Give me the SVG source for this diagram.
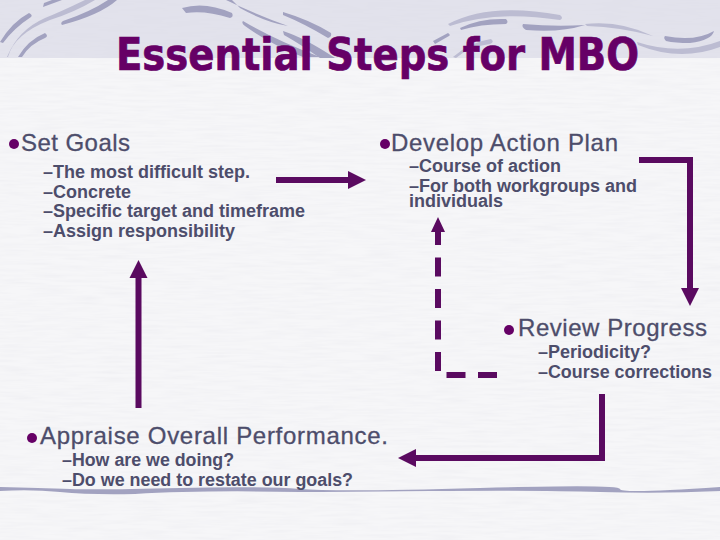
<svg xmlns="http://www.w3.org/2000/svg" width="720" height="540" viewBox="0 0 720 540">
<style>
.title{font:bold 44px "DejaVu Sans",sans-serif;fill:#660066;stroke:#660066;stroke-width:.7}
.h{font:24px "Liberation Sans",Arial,sans-serif;fill:#4d4d6b;stroke:#4d4d6b;stroke-width:.3}
.s{font:bold 18px "Liberation Sans",Arial,sans-serif;fill:#4d4d6b}
.b{fill:#660066}
.d{fill:#a2a2c0}
.l{fill:#bcbcd2}
.c{fill:none;stroke:#5a0a60;stroke-width:6;stroke-linejoin:miter}
</style>
<defs>
<marker id="ah" markerUnits="userSpaceOnUse" markerWidth="20" markerHeight="20" refX="1" refY="10" orient="auto" overflow="visible"><path d="M0 1L18 10L0 19Z" fill="#5a0a60"/></marker>
<marker id="ahs" markerUnits="userSpaceOnUse" markerWidth="16" markerHeight="16" refX="1" refY="8" orient="auto" overflow="visible"><path d="M0 1L15 8L0 15Z" fill="#5a0a60"/></marker>
<filter id="tx" x="0" y="0" width="100%" height="100%"><feTurbulence type="fractalNoise" baseFrequency="0.03 0.35" numOctaves="2" seed="4"/><feColorMatrix values="0 0 0 0 0.7 0 0 0 0 0.7 0 0 0 0 0.76 0.25 0.25 0 0 -0.2"/></filter>
</defs>
<g id="background">
<rect width="720" height="540" fill="#f6f6f8"/>
<rect width="720" height="58" fill="#e2e2ec"/>
<rect width="720" height="540" filter="url(#tx)"/>
<path class="d" d="M0 42Q12 22 29 13Q33 15 31 17Q14 28 3 43Z"/>
<path class="l" d="M8 57Q14 34 50 20Q75 12 95 0H85Q60 12 45 18Q18 30 7 57Z"/>
<path class="d" d="M18 57Q28 40 45 33Q49 36 45 38Q30 44 22 57Z"/>
<path class="d" d="M62 25Q100 15 117 0H108Q90 12 63 21Q60 23 62 25Z"/>
<path class="d" d="M43 7L62 0H52L44 3Z"/>
<path class="d" d="M182 8Q205 1 232 13Q234 17 230 18Q205 10 186 13Z"/>
<path class="d" d="M226 0Q255 14 288 26Q265 22 240 8L232 0Z"/>
<path class="d" d="M243 21Q275 40 320 57H303Q270 44 245 26Q241 23 243 21Z"/>
<path class="d" d="M283 12Q310 20 331 33Q332 37 328 38Q305 24 283 15Z"/>
<path class="d" d="M283 31Q305 38 335 58H320Q300 44 284 35Z"/>
<path class="l" d="M448 24Q490 2 560 15Q564 18 560 20Q495 10 450 26Z"/>
<path class="d" d="M460 28Q480 18 506 19Q509 22 506 24Q480 24 461 30Z"/>
<path class="d" d="M523 24Q555 27 585 25Q560 33 526 30Q521 27 523 24Z"/>
<path class="l" d="M585 24Q620 20 653 36Q620 27 587 26Z"/>
<path class="d" d="M665 36Q695 42 714 31Q712 40 690 43Q675 43 666 41Q663 38 665 36Z"/>
<path class="l" d="M637 42Q680 56 720 41V47Q680 62 638 45Z"/>
<path class="d" d="M433 41L448 33Q451 35 449 36L435 44Z"/>
<path class="l" d="M453 57Q470 42 491 39Q495 42 490 44Q470 46 456 58Z"/>
<path class="d" d="M0 487Q40 488 70 489T180 488T300 489T480 488T620 489T720 487V491Q660 494 600 492T430 491T300 492Q200 490 135 494Q90 495 60 492T0 491Z"/>
</g>
<g id="title"><text class="title" x="116" y="70" textLength="523" lengthAdjust="spacingAndGlyphs">Essential Steps for MBO</text></g>
<g id="set-goals">
<circle class="b" cx="14" cy="144" r="5"/>
<text class="h" x="21" y="151" textLength="109">Set Goals</text>
<text class="s" x="43" y="178" textLength="207" lengthAdjust="spacingAndGlyphs">–The most difficult step.</text>
<text class="s" x="43" y="198" textLength="88" lengthAdjust="spacingAndGlyphs">–Concrete</text>
<text class="s" x="43" y="217" textLength="262" lengthAdjust="spacingAndGlyphs">–Specific target and timeframe</text>
<text class="s" x="43" y="237" textLength="192" lengthAdjust="spacingAndGlyphs">–Assign responsibility</text>
</g>
<g id="develop-action-plan">
<circle class="b" cx="385" cy="144" r="5"/>
<text class="h" x="391" y="151" textLength="227">Develop Action Plan</text>
<text class="s" x="409" y="172" textLength="152" lengthAdjust="spacingAndGlyphs">–Course of action</text>
<text class="s"><tspan x="409" y="192">–For both workgroups and</tspan><tspan x="409" y="207">individuals</tspan></text>
</g>
<g id="review-progress">
<circle class="b" cx="509" cy="330" r="5"/>
<text class="h" x="518" y="336" textLength="189">Review Progress</text>
<text class="s" x="538" y="358" textLength="113" lengthAdjust="spacingAndGlyphs">–Periodicity?</text>
<text class="s" x="538" y="378" textLength="174" lengthAdjust="spacingAndGlyphs">–Course corrections</text>
</g>
<g id="appraise">
<circle class="b" cx="32" cy="438" r="5"/>
<text class="h" x="40" y="444" textLength="348">Appraise Overall Performance.</text>
<text class="s" x="62" y="466" textLength="172" lengthAdjust="spacingAndGlyphs">–How are we doing?</text>
<text class="s" x="62" y="486" textLength="291" lengthAdjust="spacingAndGlyphs">–Do we need to restate our goals?</text>
</g>
<g id="connectors">
<path class="c" d="M276 180H349" marker-end="url(#ah)"/>
<path class="c" d="M639 160H690V289" marker-end="url(#ah)"/>
<path class="c" d="M497 375H438V231" stroke-dasharray="19 12.5" marker-end="url(#ahs)"/>
<path class="c" d="M602 394V458H415" marker-end="url(#ah)"/>
<path class="c" d="M138.500 408V277" marker-end="url(#ah)"/>
</g>
</svg>
